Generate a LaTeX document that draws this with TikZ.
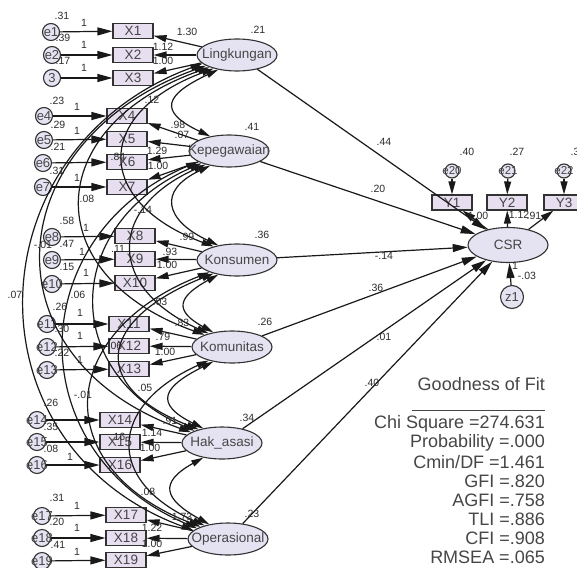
\documentclass[tikz,border=0pt]{standalone}
\usepackage{fontspec}
\setmainfont{Liberation Sans}
\usetikzlibrary{arrows.meta,shapes.geometric}
\definecolor{boxfill}{RGB}{231,222,240}
\definecolor{latfill}{RGB}{229,226,242}
\definecolor{edgec}{RGB}{50,50,50}
\definecolor{txtc}{RGB}{70,70,70}
\definecolor{numc}{RGB}{45,45,45}
\newcommand\numlab[4]{\node[numl] (#1) at (#2,#3) {#4};}
\begin{document}
\begin{tikzpicture}[x=1pt,y=-1pt,
  obs/.style={draw=edgec, fill=boxfill, line width=1.1pt, minimum width=40pt, minimum height=15pt, inner sep=0pt, font=\fontsize{13.5}{14}\selectfont, text=txtc},
  lat/.style={ellipse, draw=edgec, fill=latfill, line width=1.1pt, minimum width=80pt, minimum height=32pt, inner sep=0pt},
  lattxt/.style={font=\fontsize{13.5}{14}\selectfont, text=txtc, inner sep=0pt},
  err/.style={circle, draw=edgec, fill=latfill, line width=1.1pt, minimum size=17pt, inner sep=0pt},
  errtxt/.style={font=\fontsize{13}{14}\selectfont, text=txtc, inner sep=0pt},
  numl/.style={font=\fontsize{10.5}{11}\selectfont, text=numc, inner sep=0pt},
  arr/.style={line width=1.2pt, draw=black!90, -{Triangle[length=15pt,width=8pt]}},
  larr/.style={line width=1.2pt, draw=black!90, -{Triangle[length=13pt,width=7pt]}},
  cov/.style={line width=1.2pt, draw=black!90, {Triangle[length=12pt,width=6.5pt]}-{Triangle[length=12pt,width=6.5pt]}},
  gof/.style={font=\fontsize{18}{20}\selectfont, text=txtc, anchor=east, inner sep=0pt}]
\useasboundingbox (0,0) rectangle (577,567);
\clip (0,0) rectangle (577,567);
\fill[white] (0,0) rectangle (577,567);

% observed boxes
\node[obs] (X1) at (133,31) {X1};
\node[obs] (X2) at (133,55) {X2};
\node[obs] (X3) at (133,78) {X3};
\node[obs] (X4) at (127,116) {X4};
\node[obs] (X5) at (127,139) {X5};
\node[obs] (X6) at (127,162) {X6};
\node[obs] (X7) at (127,187) {X7};
\node[obs] (X8) at (135,236) {X8};
\node[obs] (X9) at (135,259) {X9};
\node[obs] (X10) at (135,283) {X10};
\node[obs] (X11) at (129,324) {X11};
\node[obs] (X12) at (129,346) {X12};
\node[obs] (X13) at (129,369) {X13};
\node[obs] (X14) at (120,420) {X14};
\node[obs] (X15) at (120,442) {X15};
\node[obs] (X16) at (120,465) {X16};
\node[obs] (X17) at (126,515) {X17};
\node[obs] (X18) at (126,538) {X18};
\node[obs] (X19) at (126,560) {X19};
\node[obs] (Y1) at (452,202.5) {Y1};
\node[obs] (Y2) at (507,202.5) {Y2};
\node[obs] (Y3) at (564,202.5) {Y3};

% latent ellipses
\node[lat] (Ling) at (237,55) {};
\node[lat] (Kep) at (229,151) {};
\node[lat] (Kons) at (237,260) {};
\node[lat] (Kom) at (232,347) {};
\node[lat] (Hak) at (222,443) {};
\node[lat] (Ops) at (228,539) {};
\node[lat, minimum height=35pt] (CSR) at (508,245) {};
\node[lattxt] (LingT) at (Ling) {Lingkungan};
\node[lattxt] (KepT) at (Kep) {Kepegawaian};
\node[lattxt] (KonsT) at (Kons) {Konsumen};
\node[lattxt] (KomT) at (Kom) {Komunitas};
\node[lattxt] (HakT) at (Hak) {Hak\_asasi};
\node[lattxt] (OpsT) at (Ops) {Operasional};
\node[lattxt] (CSRT) at (CSR) {CSR};

% error circles
\node[err] (e1) at (51,32) {};
\node[err] (e2) at (52,55) {};
\node[err] (e3) at (52,78) {};
\node[err] (e4) at (44,116) {};
\node[err] (e5) at (44,140) {};
\node[err] (e6) at (43,163) {};
\node[err] (e7) at (43,187) {};
\node[err] (e8) at (52,237) {};
\node[err] (e9) at (52,260) {};
\node[err] (e10) at (52,284) {};
\node[err] (e11) at (47,324) {};
\node[err] (e12) at (47,347) {};
\node[err] (e13) at (47,370) {};
\node[err] (e14) at (37,420) {};
\node[err] (e15) at (37,442) {};
\node[err] (e16) at (37,465) {};
\node[err] (e17) at (42,516) {};
\node[err] (e18) at (42,538) {};
\node[err] (e19) at (42,561) {};
\node[err, minimum size=14pt] (e20) at (452,171) {};
\node[err, minimum size=14pt] (e21) at (508,171) {};
\node[err, minimum size=14pt] (e22) at (564,171) {};
\node[err, minimum size=23pt] (z1) at (512,297) {};
\foreach \n/\t in {e1/e1,e2/e2,e3/3,e4/e4,e5/e5,e6/e6,e7/e7,e8/e8,e9/e9,e10/e10,e11/e11,e12/e12,e13/e13,e14/e14,e15/e15,e16/e16,e17/e17,e18/e18,e19/e19,z1/z1}
  \node[errtxt] (\n T) at (\n) {\t};
\foreach \n in {e20,e21,e22}
  \node[errtxt, font=\fontsize{11.5}{12}\selectfont] (\n T) at (\n) {\n};

% error -> indicator
\foreach \i in {1,...,19} \draw[arr] (e\i) -- (X\i);
\draw[larr] (e20) -- (Y1);
\draw[larr] (e21) -- (Y2);
\draw[larr] (e22) -- (Y3);
\draw[arr] (z1) -- (CSR);

% loadings
\foreach \i in {1,2,3} \draw[larr] (Ling) -- (X\i);
\foreach \i in {4,5,6,7} \draw[larr] (Kep) -- (X\i);
\foreach \i in {8,9,10} \draw[larr] (Kons) -- (X\i);
\foreach \i in {11,12,13} \draw[larr] (Kom) -- (X\i);
\foreach \i in {14,15,16} \draw[larr] (Hak) -- (X\i);
\foreach \i in {17,18,19} \draw[larr] (Ops) -- (X\i);
\foreach \i in {1,2,3} \draw[larr] (CSR) -- (Y\i);

% structural paths
\foreach \n in {Ling,Kep,Kons,Kom,Hak,Ops} \draw[arr] (\n) -- (CSR);

% covariances
\draw[cov] (Ling.218) .. controls +(-53,25) and +(-53,-25) .. (Kep.142);
\draw[cov] (Kep.218) .. controls +(-53,25) and +(-53,-25) .. (Kons.142);
\draw[cov] (Kons.218) .. controls +(-40,22) and +(-40,-22) .. (Kom.142);
\draw[cov] (Kom.218) .. controls +(-50,25) and +(-50,-25) .. (Hak.142);
\draw[cov] (Hak.218) .. controls +(-45,25) and +(-45,-25) .. (Ops.142);
\draw[cov] (Ling.210) .. controls +(-120,45) and +(-120,-45) .. (Kons.150);
\draw[cov] (Kep.210) .. controls +(-100,45) and +(-100,-45) .. (Kom.150);
\draw[cov] (Kons.210) .. controls +(-113,45) and +(-113,-45) .. (Hak.150);
\draw[cov] (Kom.210) .. controls +(-100,45) and +(-100,-45) .. (Ops.150);
\draw[cov] (Ling.204) .. controls +(-168,60) and +(-168,-60) .. (Kom.156);
\draw[cov] (Kep.204) .. controls +(-137,60) and +(-137,-60) .. (Hak.156);
\draw[cov] (Kons.204) .. controls +(-153,60) and +(-153,-60) .. (Ops.156);
\draw[cov] (Ling.199) .. controls +(-208,75) and +(-208,-75) .. (Hak.161);
\draw[cov] (Kep.199) .. controls +(-177,75) and +(-177,-75) .. (Ops.161);
\draw[cov] (Ling.194) .. controls +(-230,85) and +(-230,-85) .. (Ops.166);

% error variances
\numlab{v1}{62}{16}{.31}
\numlab{v2}{63}{38}{.39}
\numlab{v3}{63}{61}{.17}
\numlab{v4}{57}{101}{.23}
\numlab{v5}{58}{125}{.29}
\numlab{v6}{58}{147}{.21}
\numlab{v7}{57}{171}{.31}
\numlab{v8}{67}{221}{.58}
\numlab{v9}{67}{244}{.47}
\numlab{v10}{67}{267}{.15}
\numlab{v11}{60}{307}{.26}
\numlab{v12}{62}{329}{.30}
\numlab{v13}{62}{353}{.22}
\numlab{v14}{51}{403}{.26}
\numlab{v15}{51}{427}{.35}
\numlab{v16}{51}{449}{.08}
\numlab{v17}{57}{498}{.31}
\numlab{v18}{57}{522}{.20}
\numlab{v19}{58}{545}{.41}
% fixed 1
\numlab{o1}{84}{23}{1}
\numlab{o2}{84}{45}{1}
\numlab{o3}{84}{68}{1}
\numlab{o4}{77}{107}{1}
\numlab{o5}{77}{131}{1}
\numlab{o7}{77}{178}{1}
\numlab{o8}{86}{228}{1}
\numlab{o9}{82}{252}{1}
\numlab{o10}{86}{273}{1}
\numlab{o11}{80}{313}{1}
\numlab{o12}{80}{336}{1}
\numlab{o13}{80}{360}{1}
\numlab{o16}{70}{457}{1}
\numlab{o17}{77}{506}{1}
\numlab{o18}{77}{528}{1}
\numlab{o19}{77}{552}{1}
% loadings
\numlab{ld1}{187}{32}{1.30}
\numlab{ld2}{163}{47}{1.12}
\numlab{ld3}{163}{61}{1.00}
\numlab{ld4}{178}{125}{.98}
\numlab{ld5}{182}{135}{.07}
\numlab{ld6}{157}{151}{1.29}
\numlab{ld7}{158}{166}{1.00}
\numlab{ld8}{187}{237}{.99}
\numlab{ld9}{170}{252}{.93}
\numlab{ld10}{167}{265}{1.00}
\numlab{ld11}{182}{323}{.83}
\numlab{ld12}{163}{337}{.79}
\numlab{ld13}{165}{352}{1.00}
\numlab{ld14}{170}{421}{.91}
\numlab{ld15}{152}{433}{1.14}
\numlab{ld16}{150}{448}{1.00}
\numlab{ld17}{182}{517}{1.73}
\numlab{ld18}{152}{528}{1.22}
\numlab{ld19}{152}{544}{1.00}
% covariance labels
\numlab{c1}{152}{100}{.12}
\numlab{c2}{118}{157}{.84}
\numlab{c3}{87}{199}{.08}
\numlab{c4}{143}{210}{-.14}
\numlab{c5}{43}{245}{-.01}
\numlab{c6}{118}{249}{.11}
\numlab{c7}{15}{295}{.07}
\numlab{c8}{78}{295}{.06}
\numlab{c9}{160}{302}{.03}
\numlab{c10}{115}{346}{.06}
\numlab{c11}{83}{395}{-.01}
\numlab{c12}{145}{388}{.05}
\numlab{c13}{118}{437}{.16}
\numlab{c14}{148}{492}{.08}
% latent variances
\numlab{lv1}{258}{30}{.21}
\numlab{lv2}{252}{127}{.41}
\numlab{lv3}{262}{235}{.36}
\numlab{lv4}{265}{322}{.26}
\numlab{lv5}{247}{418}{.34}
\numlab{lv6}{252}{514}{.23}
% structural
\numlab{p1}{384}{142}{.44}
\numlab{p2}{378}{189}{.20}
\numlab{p3}{384}{256}{-.14}
\numlab{p4}{376}{288}{.36}
\numlab{p5}{384}{337}{.01}
\numlab{p6}{372}{383}{.40}
% right side
\numlab{vy1}{467}{152}{.40}
\numlab{vy2}{517}{152}{.27}
\numlab{vy3}{575}{152}{.3}
\numlab{ly1}{478}{216}{1.00}
\numlab{ly2}{519}{215}{1.12}
\numlab{ly3}{534}{216}{.91}
\numlab{zo}{515}{266}{1}
\numlab{zv}{527}{276}{-.03}

% goodness of fit
\node[gof] (g0) at (545,384) {Goodness of Fit};
\coordinate (gl1) at (412,410);
\coordinate (gl2) at (545,410);
\draw[line width=1pt, draw=txtc] (gl1) -- (gl2);
\node[gof] (g1) at (545,424) {Chi Square =274.631};
\node[gof] (g2) at (545,443) {Probability =.000};
\node[gof] (g3) at (545,462) {Cmin/DF =1.461};
\node[gof] (g4) at (545,481) {GFI =.820};
\node[gof] (g5) at (545,500) {AGFI =.758};
\node[gof] (g6) at (545,519) {TLI =.886};
\node[gof] (g7) at (545,538) {CFI =.908};
\node[gof] (g8) at (545,557) {RMSEA =.065};
\end{tikzpicture}
\end{document}
